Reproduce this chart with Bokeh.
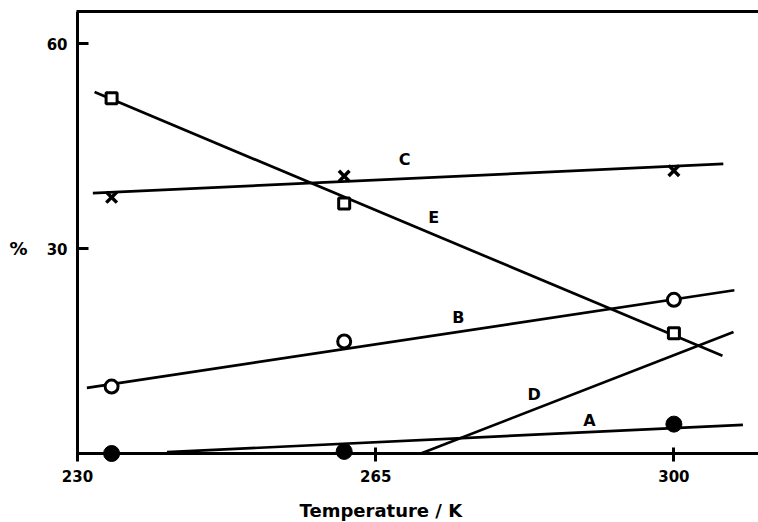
from bokeh.plotting import figure
from bokeh.models import Range1d, LinearAxis, FixedTicker, Label
from bokeh.core.properties import value
from bokeh.embed import file_html
from bokeh.resources import INLINE

# measured temperatures (K)
temps = [234.0, 261.3, 300.0]
A_vals = [0.0, 0.3, 4.3]
B_vals = [9.8, 16.4, 22.5]
C_vals = [37.5, 40.6, 41.4]
E_vals = [52.0, 36.6, 17.6]

# fitted straight lines (end points)
A_fit_x = [240.5, 308.1]; A_fit_y = [0.2, 4.2]
B_fit_x = [231.1, 307.1]; B_fit_y = [9.6, 23.9]
C_fit_x = [231.8, 305.8]; C_fit_y = [38.1, 42.4]
D_fit_x = [270.3, 307.0]; D_fit_y = [0.0, 17.8]
E_fit_x = [232.0, 305.7]; E_fit_y = [52.9, 14.3]

# curve labels
label_names = ["A", "B", "C", "D", "E"]
label_x = [290.1, 274.7, 268.4, 283.6, 271.8]
label_y = [4.8, 19.9, 43.0, 8.7, 34.6]

x_ticks = [230, 265, 300]
y_ticks = [30, 60]

FONT = "DejaVu Sans"

p = figure(width=758, height=522, output_backend="svg", toolbar_location=None,
           x_range=Range1d(220.96, 309.93), y_range=Range1d(-10.1, 64.7),
           min_border_left=0, min_border_right=0, min_border_top=11,
           min_border_bottom=0, x_axis_location="below", y_axis_location="left")
p.outline_line_color = None
p.grid.visible = False
p.background_fill_color = "white"
p.border_fill_color = "white"

xa = p.xaxis[0]
xa.fixed_location = 0
xa.bounds = (230, 309.93)
xa.ticker = FixedTicker(ticks=x_ticks)
xa.axis_line_width = 3
xa.major_tick_line_width = 3
xa.major_tick_in = 6
xa.major_tick_out = 8
xa.minor_tick_line_color = None
xa.major_label_standoff = 8
xa.major_label_text_font = FONT
xa.major_label_text_font_style = "bold"
xa.major_label_text_font_size = "15px"
xa.major_label_text_color = "black"

ya = p.yaxis[0]
ya.fixed_location = 230
ya.ticker = FixedTicker(ticks=y_ticks)
ya.bounds = (-0.8, 64.7)
ya.axis_line_width = 3
ya.major_tick_line_width = 3
ya.major_tick_in = 11
ya.major_tick_out = 0
ya.minor_tick_line_color = None
ya.major_label_standoff = 10
ya.major_label_text_font = FONT
ya.major_label_text_font_style = "bold"
ya.major_label_text_font_size = "15px"
ya.major_label_text_color = "black"

top = LinearAxis(ticker=FixedTicker(ticks=[]), axis_line_width=3, bounds=(229.85, 309.93),
                 major_tick_line_color=None, minor_tick_line_color=None,
                 major_label_text_font_size="0px")
p.add_layout(top, "above")

lw = 2.7
for fx, fy in [(A_fit_x, A_fit_y), (B_fit_x, B_fit_y), (C_fit_x, C_fit_y),
               (D_fit_x, D_fit_y), (E_fit_x, E_fit_y)]:
    p.line(fx, fy, line_color="black", line_width=lw)

p.scatter(temps, A_vals, marker="circle", size=16, fill_color="black", line_color="black")
p.scatter(temps, B_vals, marker="circle", size=13, fill_color="white", line_color="black", line_width=3)
p.scatter(temps, C_vals, marker="x", size=15, line_color="black", line_width=3.5)
p.scatter(temps, E_vals, marker="square", size=11, fill_color="white", line_color="black", line_width=3)

p.text(x=label_x, y=label_y, text=label_names, text_align="center", text_baseline="middle",
       text_font=value(FONT), text_font_style="bold", text_font_size="16px", text_color="black")

p.add_layout(Label(x=230, y=30, x_offset=-59, text="%", text_align="center",
                   text_baseline="middle", text_font=FONT, text_font_style="bold",
                   text_font_size="18px", text_color="black"))
p.add_layout(Label(x=265.6, y=0, y_offset=-57, text="Temperature / K", text_align="center",
                   text_baseline="middle", text_font=FONT, text_font_style="bold",
                   text_font_size="18px", text_color="black"))

open("out.html", "w").write(file_html(p, INLINE))
